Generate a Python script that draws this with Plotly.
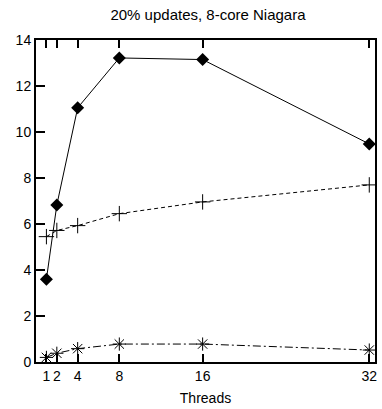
import plotly.graph_objects as go

threads = [1, 2, 4, 8, 16, 32]
series_diamond = [3.6, 6.83, 11.05, 13.22, 13.15, 9.48]
series_plus = [5.45, 5.72, 5.93, 6.45, 6.96, 7.7]
series_star = [0.2, 0.38, 0.58, 0.78, 0.78, 0.52]
x_ticks = [1, 2, 4, 8, 16, 32]
y_ticks = [0, 2, 4, 6, 8, 10, 12, 14]

fig = go.Figure()
fig.add_trace(go.Scatter(x=threads, y=series_diamond, mode="lines+markers",
                         line=dict(color="black", width=1, dash="solid"),
                         marker=dict(symbol="diamond", size=10, color="black"),
                         showlegend=False))
fig.add_trace(go.Scatter(x=threads, y=series_plus, mode="lines+markers",
                         line=dict(color="black", width=1, dash="4px,3px"),
                         marker=dict(symbol="cross-thin-open", size=11,
                                     line=dict(color="black", width=1)),
                         showlegend=False))
fig.add_trace(go.Scatter(x=threads, y=series_star, mode="lines+markers",
                         line=dict(color="black", width=1, dash="8px,3px,2px,3px"),
                         marker=dict(symbol="asterisk-open", size=11,
                                     line=dict(color="black", width=1)),
                         showlegend=False))

font_family = "Liberation Sans, Arial, sans-serif"
fig.update_layout(
    width=382, height=409,
    margin=dict(l=36, r=5, t=40, b=47),
    paper_bgcolor="white", plot_bgcolor="white",
    font=dict(family=font_family, size=14, color="black"),
    title=dict(text="20% updates, 8-core Niagara", x=0.5445, xanchor="center",
               y=0.963, yanchor="middle", font=dict(size=15)),
    xaxis=dict(range=[0, 32.55], tickvals=x_ticks, ticktext=[str(t) for t in x_ticks],
               ticks="inside", ticklen=8, tickwidth=2, tickcolor="black",
               showline=True, linecolor="black", linewidth=2, mirror="ticks",
               showgrid=False, zeroline=False, tickfont=dict(size=14),
               title=dict(text="Threads", standoff=10, font=dict(size=14))),
    yaxis=dict(range=[0, 14], tickvals=y_ticks,
               ticks="inside", ticklen=9, tickwidth=2, tickcolor="black",
               showline=True, linecolor="black", linewidth=2, mirror=True,
               showgrid=False, zeroline=False, tickfont=dict(size=14)),
)
fig.write_html("out.html")
